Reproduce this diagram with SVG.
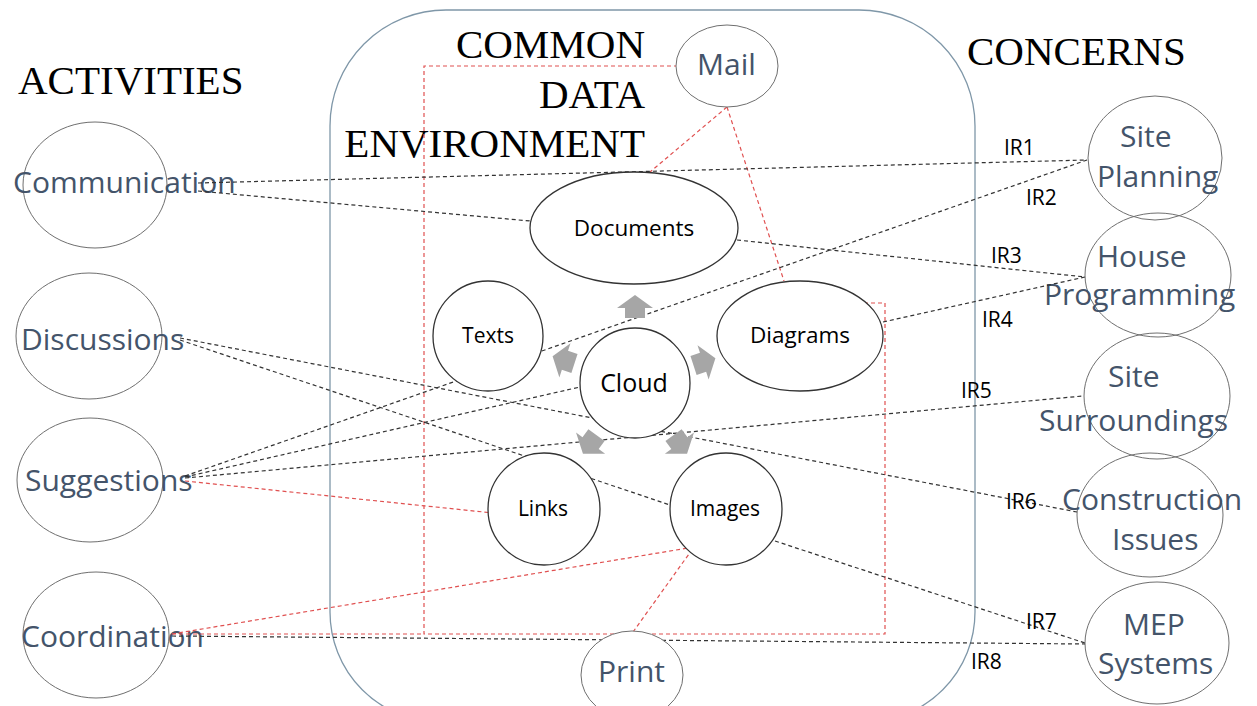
<svg xmlns="http://www.w3.org/2000/svg" width="1257" height="706" viewBox="0 0 1257 706">
<defs>
<style>
.title{font-family:"Liberation Serif","Times New Roman",serif;font-size:41px;fill:#000}
.big{font-family:"Open Sans","Noto Sans",sans-serif;font-size:30px;fill:#44546a}
.inner{font-family:"Open Sans","Noto Sans",sans-serif;font-size:21px;fill:#000}
.wide{font-size:22.5px}
.ir{font-family:"Open Sans","Noto Sans",sans-serif;font-size:21px;fill:#000}
.outer{fill:none;stroke:#6f6f6f;stroke-width:1}
.node{fill:#fff;stroke:#333;stroke-width:1.3}
.thin{stroke:#6f6f6f;stroke-width:1}
.bk{fill:none;stroke:#333;stroke-width:1.2;stroke-dasharray:4 3}
.rd{fill:none;stroke:#e05050;stroke-width:1.2;stroke-dasharray:4 3}
.arr{fill:#a6a6a6}
</style>
<polygon id="arrow" points="0,-12 18,1 10,1 10,11 -10,11 -10,1 -18,1"/>
</defs>
<rect width="1257" height="706" fill="#fff"/>
<g id="cde-frame">
<path d="M446,10 H859 A116,116 0 0 1 975,126 V612 A110,110 0 0 1 865,722 H440 A110,110 0 0 1 330,612 V126 A116,116 0 0 1 446,10 Z" fill="none" stroke="#7f97a8" stroke-width="1.3"/>
</g>
<g id="titles">
<text class="title" x="18" y="94">ACTIVITIES</text>
<text class="title" x="645" y="58" text-anchor="end">COMMON</text>
<text class="title" x="645" y="108" text-anchor="end">DATA</text>
<text class="title" x="645" y="157" text-anchor="end">ENVIRONMENT</text>
<text class="title" x="967" y="65">CONCERNS</text>
</g>
<g id="communication"><ellipse class="outer" cx="95" cy="185" rx="72" ry="63"/><text class="big" x="13" y="193">Communication</text></g>
<g id="discussions"><ellipse class="outer" cx="89" cy="336" rx="73" ry="63"/><text class="big" x="21" y="350">Discussions</text></g>
<g id="suggestions"><ellipse class="outer" cx="90" cy="480" rx="73" ry="62"/><text class="big" x="25" y="491">Suggestions</text></g>
<g id="coordination"><ellipse class="outer" cx="96" cy="635" rx="73" ry="63"/><text class="big" x="21" y="647">Coordination</text></g>
<g id="site-planning"><ellipse class="outer" cx="1155" cy="158" rx="67" ry="62"/><text class="big" x="1120" y="147">Site</text><text class="big" x="1097" y="187">Planning</text></g>
<g id="house-programming"><ellipse class="outer" cx="1158" cy="275" rx="73" ry="62"/><text class="big" x="1097" y="267">House</text><text class="big" x="1044" y="305">Programming</text></g>
<g id="site-surroundings"><ellipse class="outer" cx="1157" cy="396" rx="73" ry="63"/><text class="big" x="1108" y="387">Site</text><text class="big" x="1039" y="431">Surroundings</text></g>
<g id="construction-issues"><ellipse class="outer" cx="1150" cy="515" rx="73" ry="62"/><text class="big" x="1062" y="510">Construction</text><text class="big" x="1112" y="550">Issues</text></g>
<g id="mep-systems"><ellipse class="outer" cx="1157" cy="643" rx="72" ry="61"/><text class="big" x="1123" y="635">MEP</text><text class="big" x="1098" y="674">Systems</text></g>
<g id="connectors">
<path class="rd" d="M843,303 H885 V634 H424 V66 H677"/>
<line class="rd" x1="727" y1="107" x2="650" y2="172"/>
<line class="rd" x1="727" y1="107" x2="784" y2="281"/>
<line class="rd" x1="185" y1="481" x2="503" y2="514"/>
<line class="rd" x1="172" y1="634" x2="694" y2="547"/>
<line class="rd" x1="172" y1="634" x2="424" y2="634"/>
<line class="rd" x1="633" y1="632" x2="694" y2="547"/>
<line class="bk" x1="198" y1="183" x2="1087" y2="160"/>
<line class="bk" x1="198" y1="191" x2="530" y2="221"/>
<line class="bk" x1="737" y1="240" x2="1085" y2="277"/>
<line class="bk" x1="883" y1="322" x2="1085" y2="277"/>
<line class="bk" x1="185" y1="476" x2="1087" y2="160"/>
<line class="bk" x1="185" y1="477" x2="580" y2="387"/>
<line class="bk" x1="185" y1="478" x2="1083" y2="396"/>
<line class="bk" x1="180" y1="338" x2="1077" y2="512"/>
<line class="bk" x1="180" y1="340" x2="670" y2="505"/>
<line class="bk" x1="775" y1="541" x2="1085" y2="643"/>
<line class="bk" x1="172" y1="636" x2="1085" y2="644"/>
<text class="ir" x="1004" y="155">IR1</text>
<text class="ir" x="1026" y="205">IR2</text>
<text class="ir" x="991" y="263">IR3</text>
<text class="ir" x="982" y="327">IR4</text>
<text class="ir" x="961" y="398">IR5</text>
<text class="ir" x="1006" y="509">IR6</text>
<text class="ir" x="1026" y="629">IR7</text>
<text class="ir" x="971" y="669">IR8</text>
</g>
<g id="mail"><ellipse class="node thin" cx="727" cy="66" rx="51" ry="41"/><text class="big" x="697" y="75">Mail</text></g>
<g id="documents"><ellipse class="node" cx="634" cy="228" rx="104" ry="56"/><text class="inner wide" x="634" y="236" text-anchor="middle">Documents</text></g>
<g id="texts"><ellipse class="node" cx="488" cy="336" rx="55" ry="55"/><text class="inner" x="488" y="343" text-anchor="middle">Texts</text></g>
<g id="cloud"><ellipse class="node" cx="635" cy="383" rx="55" ry="55"/><text x="634" y="392" text-anchor="middle" font-family="Open Sans, Noto Sans, sans-serif" font-size="25" fill="#000">Cloud</text></g>
<g id="diagrams"><ellipse class="node" cx="800" cy="336" rx="83" ry="55"/><text class="inner wide" x="800" y="343" text-anchor="middle">Diagrams</text></g>
<g id="links"><ellipse class="node" cx="544" cy="509" rx="56" ry="56"/><text class="inner" x="543" y="516" text-anchor="middle">Links</text></g>
<g id="images"><ellipse class="node" cx="726" cy="509" rx="56" ry="56"/><text class="inner" x="725" y="516" text-anchor="middle">Images</text></g>
<g id="print"><ellipse class="node thin" cx="632" cy="675" rx="51" ry="44"/><text class="big" x="598" y="682">Print</text></g>
<g id="cloud-arrows" class="arr">
<use href="#arrow" transform="translate(635,307)"/>
<use href="#arrow" transform="translate(704,362) rotate(72)"/>
<use href="#arrow" transform="translate(680,444) rotate(144)"/>
<use href="#arrow" transform="translate(590,444) rotate(216)"/>
<use href="#arrow" transform="translate(564,360) rotate(288)"/>
</g>
</svg>
